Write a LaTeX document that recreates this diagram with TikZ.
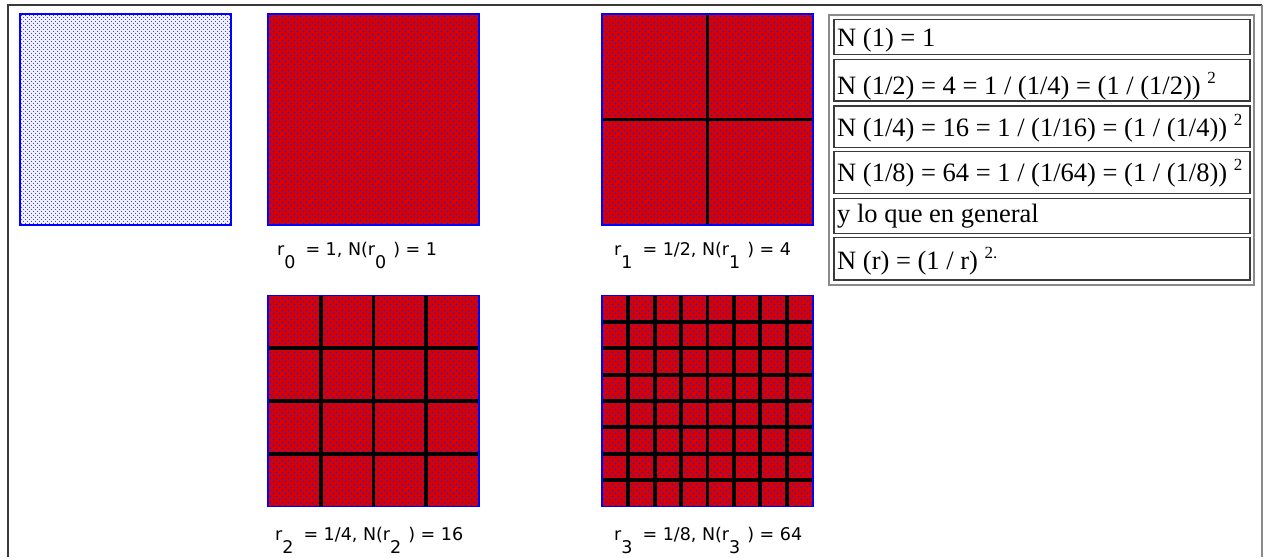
\documentclass[tikz,border=0pt]{standalone}
\usepackage{fontspec}
\setmainfont{Liberation Serif}
\newfontfamily\labfont{DejaVu Sans}
\usetikzlibrary{patterns.meta,calc}
\definecolor{sqred}{HTML}{D80000}
\definecolor{sqblue}{HTML}{0000FF}
\definecolor{dotblue}{HTML}{2020E0}
\definecolor{palefill}{HTML}{F0F0FF}
\definecolor{framedark}{HTML}{3A3A3A}
\definecolor{framelight}{HTML}{8A8A8A}
\newcommand{\lsub}[1]{\raisebox{-13pt}{#1}}
\newcommand{\tsup}[1]{\raisebox{11pt}{\fontsize{17}{18}\selectfont #1}}
\begin{document}
\begin{tikzpicture}[x=1pt,y=-1pt,
  sqbase/.style={draw=sqblue, line width=1.5pt, minimum size=211pt, inner sep=0pt, outer sep=0pt, anchor=north west},
  bluesq/.style={sqbase, fill=palefill,
    postaction={pattern={Dots[distance=4pt, radius=0.6pt, xshift=0.5pt, yshift=0.5pt]}, pattern color=sqblue},
    postaction={pattern={Dots[distance=4pt, radius=0.6pt, xshift=2.5pt, yshift=2.5pt]}, pattern color=sqblue}},
  redsq/.style={sqbase, fill=sqred,
    postaction={pattern={Dots[distance=6pt, radius=0.85pt, xshift=0.5pt, yshift=0.5pt]}, pattern color=dotblue},
    postaction={pattern={Dots[distance=6pt, radius=0.85pt, xshift=3.5pt, yshift=3.5pt]}, pattern color=dotblue}},
  gridline/.style={line width=3.8pt, black},
  sqborder/.style={draw=sqblue, line width=1.5pt},
  sqlabel/.style={anchor=base west, inner sep=0pt, font=\labfont\fontsize{17.5}{20}\selectfont},
  cell/.style={draw=framedark, line width=1.2pt, minimum width=416pt, inner sep=0pt, outer sep=0pt, anchor=north west},
  celltext/.style={anchor=base west, inner sep=0pt, font=\fontsize{26.5}{30}\selectfont},
  tableframe/.style={draw=framelight, line width=1.5pt},
  pageframe/.style={line width=1.5pt}]
\useasboundingbox[fill=white] (0,0) rectangle (1268,557);
% page frame
\draw[pageframe, framedark] (8,557) -- (8,5) -- (1262,5);
\draw[pageframe, framelight] (1262,5) -- (1262,557);
% squares
\node[bluesq] (s0) at (20,14) {};
\node[redsq] (s1) at (268,14) {};
\node[redsq] (s2) at (602,14) {};
\node[redsq] (s3) at (268,295.5) {};
\node[redsq] (s4) at (602,295.5) {};
% grids
\draw[gridline] (s2.north) -- (s2.south);
\draw[gridline] (s2.west) -- (s2.east);
\foreach \i in {1,2,3} {
  \draw[gridline] ($(s3.north west)!{\i/4}!(s3.north east)$) -- ($(s3.south west)!{\i/4}!(s3.south east)$);
  \draw[gridline] ($(s3.north west)!{\i/4}!(s3.south west)$) -- ($(s3.north east)!{\i/4}!(s3.south east)$);
}
\foreach \i in {1,...,7} {
  \draw[gridline] ($(s4.north west)!{\i/8}!(s4.north east)$) -- ($(s4.south west)!{\i/8}!(s4.south east)$);
  \draw[gridline] ($(s4.north west)!{\i/8}!(s4.south west)$) -- ($(s4.north east)!{\i/8}!(s4.south east)$);
}
\foreach \s in {s2,s3,s4} \draw[sqborder] (\s.north west) rectangle (\s.south east);
% labels
\node[sqlabel] (l1) at (277,255) {r\lsub{0}\hspace{10pt}= 1, N(r\lsub{0}\hspace{7pt}) = 1};
\node[sqlabel] (l2) at (614,255) {r\lsub{1}\hspace{10pt}= 1/2, N(r\lsub{1}\hspace{7pt}) = 4};
\node[sqlabel] (l3) at (275,540) {r\lsub{2}\hspace{10pt}= 1/4, N(r\lsub{2}\hspace{7pt}) = 16};
\node[sqlabel] (l4) at (614,540) {r\lsub{3}\hspace{10pt}= 1/8, N(r\lsub{3}\hspace{7pt}) = 64};
% table
\draw[tableframe] (829,15) rectangle (1254,285);
\node[cell, minimum height=35pt] (c1) at (834,19.3) {};
\node[cell, minimum height=41.7pt] (c2) at (834,59.3) {};
\node[cell, minimum height=41.3pt] (c3) at (834,106) {};
\node[cell, minimum height=41.6pt] (c4) at (834,151.7) {};
\node[cell, minimum height=35pt] (c5) at (834,198.3) {};
\node[cell, minimum height=42.3pt] (c6) at (834,237.7) {};
\node[celltext] (t1) at (837,46.5) {N (1) = 1};
\node[celltext] (t2) at (837,94) {N (1/2) = 4 = 1 / (1/4) = (1 / (1/2)) \tsup{2}};
\node[celltext] (t3) at (837,136.7) {N (1/4) = 16 = 1 / (1/16) = (1 / (1/4)) \tsup{2}};
\node[celltext] (t4) at (837,181.7) {N (1/8) = 64 = 1 / (1/64) = (1 / (1/8)) \tsup{2}};
\node[celltext] (t5) at (837,222.5) {y lo que en general};
\node[celltext] (t6) at (837,269.3) {N (r) = (1 / r) \tsup{2.}};
\end{tikzpicture}
\end{document}
